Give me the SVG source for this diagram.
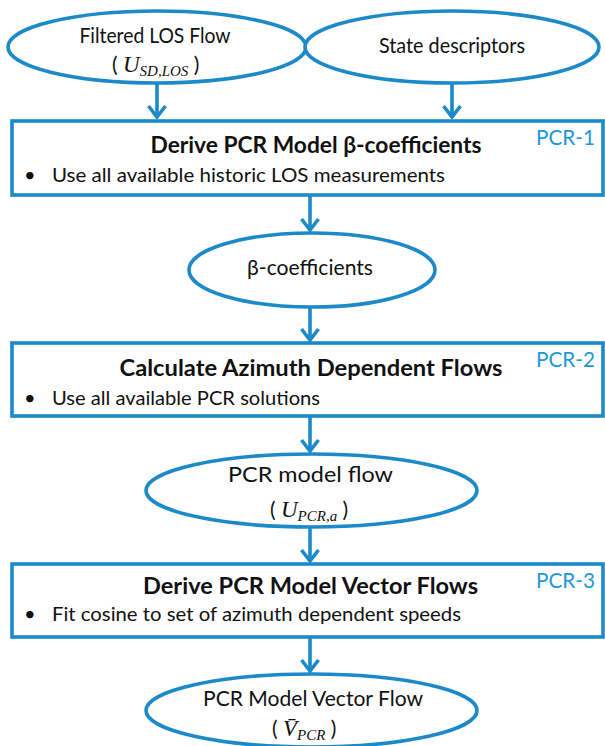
<svg xmlns="http://www.w3.org/2000/svg" width="605" height="746" viewBox="0 0 605 746">
  <style>
    .shape { fill: #ffffff; stroke: #1C8AC9; stroke-width: 3.6; }
    .conn { stroke: #1C8AC9; stroke-width: 3.6; fill: none; }
    .lbl { font-family: Lato, "Open Sans", "Liberation Sans", sans-serif; font-size: 20.5px; fill: #111111; }
    .title { font-family: Lato, "Open Sans", "Liberation Sans", sans-serif; font-size: 23.5px; font-weight: bold; fill: #111111; }
    .bullet { font-family: Lato, "Open Sans", "Liberation Sans", sans-serif; font-size: 20px; fill: #111111; }
    .tag { font-family: Lato, "Open Sans", "Liberation Sans", sans-serif; font-size: 20.5px; fill: #1E97D6; }
    .math { font-family: "Liberation Serif", "DejaVu Serif", serif; font-style: italic; font-size: 23px; fill: #111111; }
    .sub { font-size: 15px; }
    .paren { font-family: Lato, "Open Sans", "Liberation Sans", sans-serif; font-style: normal; font-size: 21px; }
  </style>
  <defs>
    <marker id="head" viewBox="-14 -12 16 24" refX="0" refY="0" markerWidth="16" markerHeight="24" markerUnits="userSpaceOnUse" orient="auto">
      <path d="M-11,-8.5 L0,0 L-11,8.5" fill="none" stroke="#1C8AC9" stroke-width="3.6" stroke-linejoin="miter"/>
    </marker>
  </defs>
  <rect width="605" height="746" fill="#ffffff"/>

  <!-- connectors -->
  <g id="connectors">
    <line class="conn" x1="157" y1="83" x2="157" y2="117" marker-end="url(#head)"/>
    <line class="conn" x1="452" y1="83" x2="452" y2="117" marker-end="url(#head)"/>
    <line class="conn" x1="310" y1="195" x2="310" y2="230" marker-end="url(#head)"/>
    <line class="conn" x1="310" y1="307" x2="310" y2="340" marker-end="url(#head)"/>
    <line class="conn" x1="310" y1="416" x2="310" y2="451" marker-end="url(#head)"/>
    <line class="conn" x1="310" y1="527" x2="310" y2="561" marker-end="url(#head)"/>
    <line class="conn" x1="310" y1="637" x2="310" y2="671" marker-end="url(#head)"/>
  </g>

  <!-- inputs -->
  <g id="filtered-los-flow">
    <ellipse class="shape" cx="157" cy="47" rx="149" ry="36"/>
    <text class="lbl" x="155" y="43" text-anchor="middle" textLength="151" lengthAdjust="spacingAndGlyphs">Filtered LOS Flow</text>
    <text class="math" x="112" y="72"><tspan class="paren">( </tspan>U<tspan class="sub" dy="4">SD,LOS</tspan><tspan class="paren" dy="-4"> )</tspan></text>
  </g>
  <g id="state-descriptors">
    <ellipse class="shape" cx="452" cy="47" rx="147" ry="36"/>
    <text class="lbl" x="452" y="53" text-anchor="middle" textLength="146" lengthAdjust="spacingAndGlyphs">State descriptors</text>
  </g>

  <!-- step PCR-1 -->
  <g id="pcr-1">
    <rect class="shape" x="12" y="121" width="591" height="74"/>
    <text class="title" x="316" y="153" text-anchor="middle" textLength="331" lengthAdjust="spacingAndGlyphs">Derive PCR Model β-coefficients</text>
    <text class="tag" x="536" y="145" textLength="59" lengthAdjust="spacingAndGlyphs">PCR-1</text>
    <text class="bullet" x="24" y="182">•</text>
    <text class="bullet" x="52" y="182" textLength="393" lengthAdjust="spacingAndGlyphs">Use all available historic LOS measurements</text>
  </g>

  <g id="beta-coefficients">
    <ellipse class="shape" cx="312" cy="270" rx="123" ry="37"/>
    <text class="lbl" x="310" y="275" text-anchor="middle" textLength="126" lengthAdjust="spacingAndGlyphs">β-coefficients</text>
  </g>

  <!-- step PCR-2 -->
  <g id="pcr-2">
    <rect class="shape" x="12" y="343" width="591" height="73"/>
    <text class="title" x="311" y="376" text-anchor="middle" textLength="383" lengthAdjust="spacingAndGlyphs">Calculate Azimuth Dependent Flows</text>
    <text class="tag" x="536" y="367" textLength="59" lengthAdjust="spacingAndGlyphs">PCR-2</text>
    <text class="bullet" x="24" y="405">•</text>
    <text class="bullet" x="52" y="405" textLength="268" lengthAdjust="spacingAndGlyphs">Use all available PCR solutions</text>
  </g>

  <g id="pcr-model-flow">
    <ellipse class="shape" cx="311.5" cy="490.5" rx="165.5" ry="36.5"/>
    <text class="lbl" x="310.5" y="482" text-anchor="middle" textLength="165" lengthAdjust="spacingAndGlyphs">PCR model flow</text>
    <text class="math" x="270" y="517"><tspan class="paren">( </tspan>U<tspan class="sub" dy="4">PCR,a</tspan><tspan class="paren" dy="-4"> )</tspan></text>
  </g>

  <!-- step PCR-3 -->
  <g id="pcr-3">
    <rect class="shape" x="12" y="564" width="591" height="73"/>
    <text class="title" x="310.5" y="594" text-anchor="middle" textLength="335" lengthAdjust="spacingAndGlyphs">Derive PCR Model Vector Flows</text>
    <text class="tag" x="536" y="588" textLength="59" lengthAdjust="spacingAndGlyphs">PCR-3</text>
    <text class="bullet" x="24" y="621">•</text>
    <text class="bullet" x="52" y="621" textLength="409" lengthAdjust="spacingAndGlyphs">Fit cosine to set of azimuth dependent speeds</text>
  </g>

  <g id="pcr-model-vector-flow">
    <ellipse class="shape" cx="311.5" cy="710.5" rx="165.5" ry="36.5"/>
    <text class="lbl" x="313" y="706" text-anchor="middle" textLength="220" lengthAdjust="spacingAndGlyphs">PCR Model Vector Flow</text>
    <text class="math" x="272" y="736"><tspan class="paren">( </tspan>V̄<tspan class="sub" dy="4">PCR</tspan><tspan class="paren" dy="-4"> )</tspan></text>
  </g>
</svg>
